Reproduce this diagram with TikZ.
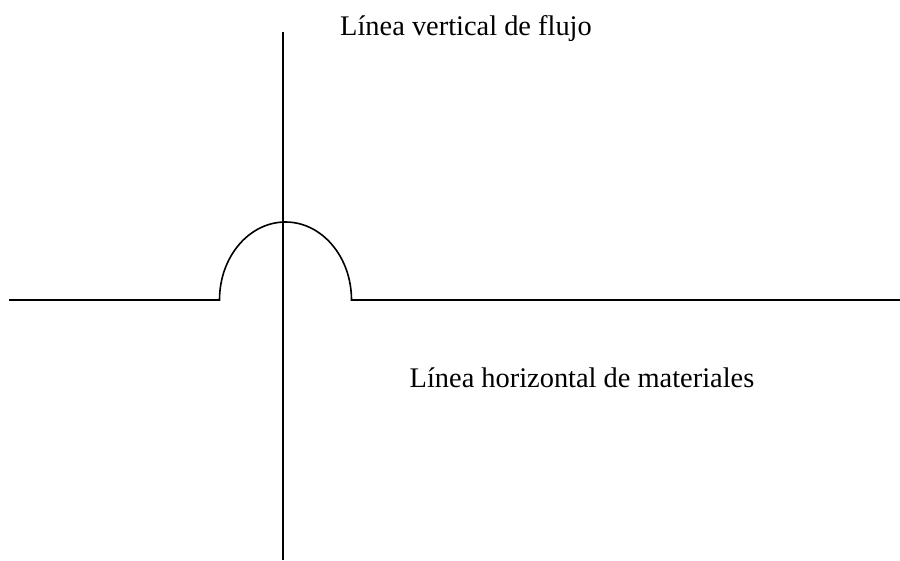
\documentclass[tikz,border=0pt]{standalone}
\usepackage{fontspec}
\setmainfont{Liberation Serif}
\usetikzlibrary{positioning}

\begin{document}
\begin{tikzpicture}[x=1pt, y=-1pt]
\path[use as bounding box] (0,0) rectangle (900,560);
\draw[line width=1.6pt] (283,32) -- (283,560);
\draw[line width=1.6pt] (9,300) -- (219.5,300) arc[start angle=180, end angle=0, x radius=66, y radius=-78] -- (900,300);
\node[anchor=base, inner sep=0pt] (vlabel) at (466,35) {\fontsize{28.4}{32}\selectfont Línea vertical de flujo};
\node[anchor=base, inner sep=0pt] (hlabel) at (582,387) {\fontsize{28.4}{32}\selectfont Línea horizontal de materiales};
\end{tikzpicture}
\end{document}
